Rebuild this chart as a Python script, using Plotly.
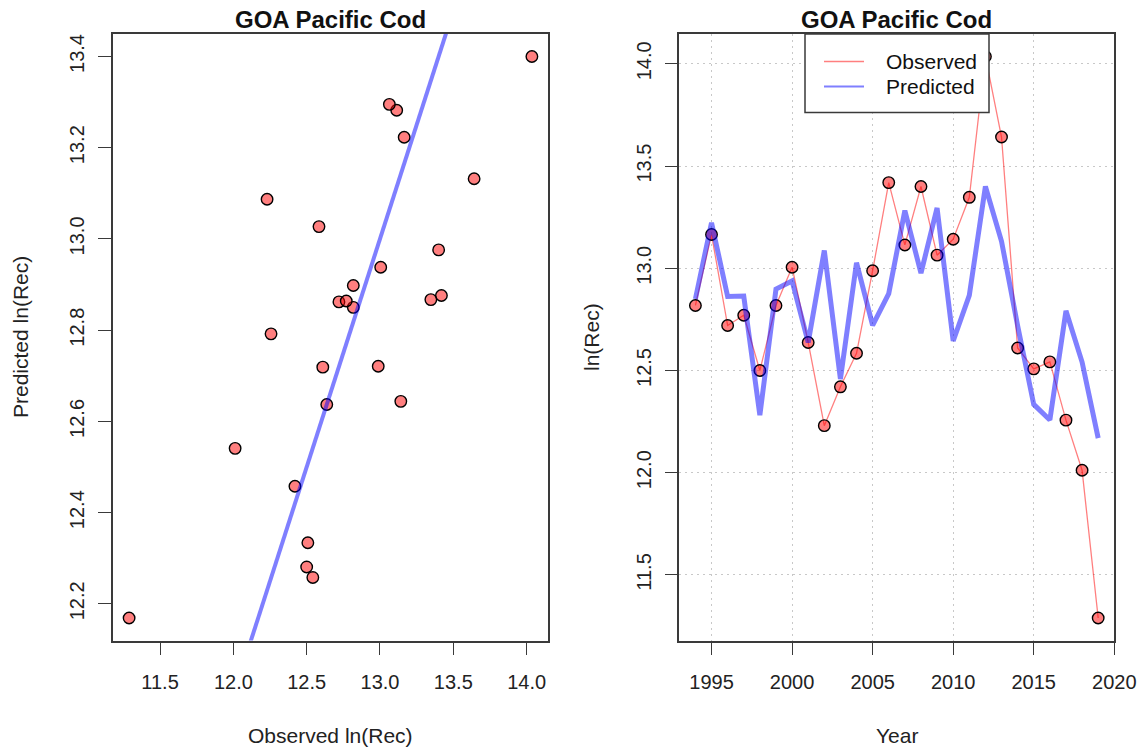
import plotly.graph_objects as go

# ---------------- data ----------------
years = list(range(1994, 2020))
observed = [12.818, 13.165, 12.720, 12.770, 12.500, 12.818, 13.005, 12.637, 12.230, 12.420,
            12.584, 12.988, 13.419, 13.114, 13.400, 13.064, 13.142, 13.347, 14.036, 13.642,
            12.610, 12.508, 12.542, 12.257, 12.012, 11.289]
predicted = [12.850, 13.223, 12.862, 12.864, 12.281, 12.898, 12.938, 12.637, 13.087, 12.458,
             13.027, 12.721, 12.876, 13.282, 12.976, 13.295, 12.644, 12.867, 13.400, 13.132,
             12.719, 12.334, 12.258, 12.792, 12.541, 12.169]
title_text = "GOA Pacific Cod"
legend_labels = ["Observed", "Predicted"]
left_xticks = [11.5, 12.0, 12.5, 13.0, 13.5, 14.0]
left_yticks = [12.2, 12.4, 12.6, 12.8, 13.0, 13.2, 13.4]
right_xticks = [1995, 2000, 2005, 2010, 2015, 2020]
right_yticks = [11.5, 12.0, 12.5, 13.0, 13.5, 14.0]


def rrange(v):
    lo, hi = min(v), max(v)
    pad = 0.04 * (hi - lo)
    return [lo - pad, hi + pad]


W, H = 1143, 749
FONT = "Liberation Sans, Arial, sans-serif"
PT_FILL = "rgba(255,0,0,0.5)"
BLUE = "rgba(0,0,255,0.5)"
BOX = "#3a3a3a"
MK = dict(size=11.5, color=PT_FILL, line=dict(color="black", width=1.4))

fig = go.Figure()

# left panel: points then 1:1 line
lx = rrange(observed)
ly = rrange(predicted)
fig.add_trace(go.Scatter(x=observed, y=predicted, mode="markers", xaxis="x", yaxis="y",
                         marker=MK, showlegend=False, cliponaxis=False))
fig.add_trace(go.Scatter(x=[lx[0] - 1, lx[1] + 1], y=[lx[0] - 1, lx[1] + 1], mode="lines",
                         xaxis="x", yaxis="y", line=dict(color=BLUE, width=4), showlegend=False))

# right panel
ry = rrange(observed + predicted)
rx = rrange(years)
fig.add_trace(go.Scatter(x=years, y=observed, mode="lines", xaxis="x2", yaxis="y2", showlegend=False,
                         line=dict(color=PT_FILL, width=1.3)))
fig.add_trace(go.Scatter(x=years, y=observed, mode="markers", xaxis="x2", yaxis="y2", showlegend=False,
                         marker=MK, cliponaxis=False))
fig.add_trace(go.Scatter(x=years, y=predicted, mode="lines", xaxis="x2", yaxis="y2", showlegend=False,
                         line=dict(color=BLUE, width=5)))

L0, L1 = 113 / W, 548 / W
R0, R1 = 679.3 / W, 1114.3 / W
Y0, Y1 = 1 - 640.5 / H, 1 - 34 / H

axcommon = dict(showline=True, linecolor=BOX, linewidth=1.5, mirror=True, ticks="outside",
                ticklen=13, tickwidth=1.2, tickcolor=BOX, zeroline=False, automargin=False,
                tickfont=dict(family=FONT, size=20, color="#222"))
GRID = dict(showgrid=True, gridcolor="#c8c8c8", griddash="1.5px,4.5px", gridwidth=1.2)

fig.update_layout(
    template="none",
    width=W, height=H, autosize=False,
    margin=dict(l=0, r=0, t=0, b=0, pad=0),
    paper_bgcolor="white", plot_bgcolor="white",
    xaxis=dict(domain=[L0, L1], range=lx, tickvals=left_xticks, ticktext=[f"{v:.1f}" for v in left_xticks],
               showgrid=False, anchor="y", ticklabelstandoff=10, **axcommon),
    yaxis=dict(domain=[Y0, Y1], range=ly, tickvals=left_yticks, ticktext=[f"{v:.1f}" for v in left_yticks],
               showgrid=False, anchor="x", tickangle=-90, ticklabelstandoff=6, **axcommon),
    xaxis2=dict(domain=[R0, R1], range=rx, tickvals=right_xticks, ticktext=[str(v) for v in right_xticks],
                anchor="y2", ticklabelstandoff=10, **GRID, **axcommon),
    yaxis2=dict(domain=[Y0, Y1], range=ry, tickvals=right_yticks, ticktext=[f"{v:.1f}" for v in right_yticks],
                anchor="x2", tickangle=-90, ticklabelstandoff=6, **GRID, **axcommon),
    showlegend=False,
)


def px(x):
    return x / W


def py(y):
    return 1 - y / H


# manual legend box (decoration)
shapes = [
    dict(type="rect", xref="paper", yref="paper", x0=px(805), x1=px(989), y0=py(112.5), y1=py(34),
         fillcolor="white", line=dict(color=BOX, width=1.5), layer="above"),
    dict(type="line", xref="paper", yref="paper", x0=px(824), x1=px(864), y0=py(61.5), y1=py(61.5),
         line=dict(color=PT_FILL, width=1.5), layer="above"),
    dict(type="line", xref="paper", yref="paper", x0=px(824), x1=px(864), y0=py(86.5), y1=py(86.5),
         line=dict(color=BLUE, width=2.2), layer="above"),
]
fig.update_layout(shapes=shapes)

ann = []
for lab, yy in zip(legend_labels, [61.5, 86.5]):
    ann.append(dict(text=lab, x=px(884), y=py(yy), xref="paper", yref="paper", showarrow=False,
                    xanchor="left", yanchor="middle", font=dict(family=FONT, size=21, color="#111")))
for cx in [(113 + 548) / 2 / W, (679.3 + 1114.3) / 2 / W]:
    ann.append(dict(text=f"<b>{title_text}</b>", x=cx, y=py(20), xref="paper", yref="paper",
                    showarrow=False, xanchor="center", yanchor="middle",
                    font=dict(family=FONT, size=24, color="#111")))
ann.append(dict(text="Observed ln(Rec)", x=(113 + 548) / 2 / W, y=py(735), xref="paper", yref="paper",
                showarrow=False, xanchor="center", yanchor="middle", font=dict(family=FONT, size=21, color="#222")))
ann.append(dict(text="Year", x=(679.3 + 1114.3) / 2 / W, y=py(735), xref="paper", yref="paper",
                showarrow=False, xanchor="center", yanchor="middle", font=dict(family=FONT, size=21, color="#222")))
ann.append(dict(text="Predicted ln(Rec)", x=px(20), y=py(337), xref="paper", yref="paper", textangle=-90,
                showarrow=False, xanchor="center", yanchor="middle", font=dict(family=FONT, size=21, color="#222")))
ann.append(dict(text="ln(Rec)", x=px(591), y=py(337), xref="paper", yref="paper", textangle=-90,
                showarrow=False, xanchor="center", yanchor="middle", font=dict(family=FONT, size=21, color="#222")))
fig.update_layout(annotations=ann)

fig.write_html(
    "out.html",
    config={"displayModeBar": False, "responsive": False},
    default_width="1143px",
    default_height="749px",
    post_script=(
        "document.documentElement.style.margin='0';document.documentElement.style.overflow='hidden';"
        "document.body.style.margin='0';document.body.style.overflow='hidden';"
    ),
)
